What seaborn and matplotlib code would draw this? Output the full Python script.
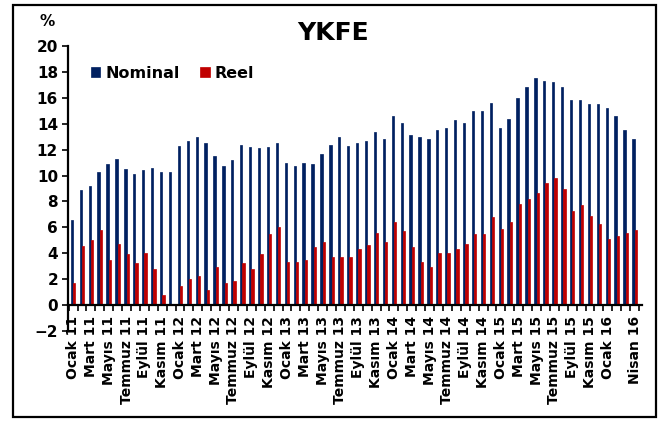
import pandas as pd
import seaborn as sns
import matplotlib.pyplot as plt
from matplotlib.patches import Rectangle

# monthly, Ocak 2011 - Nisan 2016
aylar = ['Ocak', 'Şubat', 'Mart', 'Nisan', 'Mayıs', 'Haziran',
         'Temmuz', 'Ağustos', 'Eylül', 'Ekim', 'Kasım', 'Aralık']
months = [f'{aylar[m]} {y}' for y in range(11, 17) for m in range(12)][:64]

nominal = [6.6, 8.9, 9.2, 10.3, 10.9, 11.25, 10.5, 10.1, 10.4, 10.55,
           10.3, 10.3, 12.25, 12.65, 12.95, 12.5, 11.5, 10.7, 11.2, 12.35,
           12.2, 12.1, 12.2, 12.55, 11.0, 10.7, 11.0, 10.9, 11.65, 12.35,
           12.95, 12.25, 12.55, 12.65, 13.35, 12.8, 14.6, 14.05, 13.15, 13.0,
           12.85, 13.55, 13.7, 14.25, 14.05, 14.95, 15.0, 15.6, 13.65, 14.4,
           16.0, 16.8, 17.5, 17.3, 17.2, 16.8, 15.8, 15.8, 15.5, 15.5,
           15.2, 14.6, 13.55, 12.85]
reel = [1.7, 4.55, 5.0, 5.8, 3.45, 4.75, 3.95, 3.25, 4.05, 2.75,
        0.8, 0.0, 1.45, 2.05, 2.25, 1.15, 2.95, 1.7, 1.85, 3.25,
        2.75, 3.95, 5.45, 6.0, 3.35, 3.35, 3.45, 4.45, 4.85, 3.75,
        3.75, 3.75, 4.3, 4.6, 5.6, 4.9, 6.4, 5.7, 4.45, 3.35,
        2.95, 4.05, 4.05, 4.3, 4.75, 5.45, 5.45, 6.8, 5.9, 6.4,
        7.8, 8.2, 8.65, 9.45, 9.8, 9.0, 7.3, 7.7, 6.9, 6.25,
        5.1, 5.3, 5.6, 5.8]

df = pd.DataFrame({'Ay': months * 2,
                   'Deger': nominal + reel,
                   'Seri': ['Nominal'] * 64 + ['Reel'] * 64})

sns.set_style('white')
plt.rcParams['font.family'] = ['DejaVu Sans']
plt.rcParams['font.weight'] = 'bold'
plt.rcParams['text.color'] = 'black'
plt.rcParams['xtick.color'] = 'black'
plt.rcParams['ytick.color'] = 'black'
plt.rcParams['axes.edgecolor'] = 'black'

fig = plt.figure(figsize=(6.64, 4.21), dpi=100)
ax = fig.add_axes([0.102, 0.2138, 0.8644, 0.6769])

sns.barplot(data=df, x='Ay', y='Deger', hue='Seri',
            palette=['#002060', '#C00000'], width=0.52, gap=0,
            saturation=1, ax=ax)
for bar in ax.patches:
    bar.set_edgecolor(bar.get_facecolor())
    bar.set_linewidth(0.5)

ax.set_xlim(-0.6, 63.8)
ax.set_ylim(-2, 20)
ax.set_yticks(range(-2, 21, 2))
ax.tick_params(axis='y', direction='out', length=4, width=1.2, pad=3,
               labelsize=11, left=True)
for t in ax.get_yticklabels():
    t.set_fontweight('bold')

# x axis crosses at 0
ax.spines['bottom'].set_position(('data', 0))
ax.spines['bottom'].set_linewidth(1.6)
ax.spines['left'].set_linewidth(1.6)
ax.spines['top'].set_visible(False)
ax.spines['right'].set_visible(False)

lab_pos = list(range(0, 61, 2)) + [63]
ax.set_xticks(lab_pos)
ax.set_xticklabels([months[i] for i in lab_pos],
                   rotation=90, fontsize=10, fontweight='bold')
ax.set_xticks([i + 0.5 for i in range(-1, 64)], minor=True)
ax.tick_params(axis='x', which='major', length=0, pad=8, bottom=True)
ax.tick_params(axis='x', which='minor', direction='out', length=4,
               width=1.2, bottom=True)
ax.set_xlabel('')
ax.set_ylabel('')

leg = ax.legend(loc='center left', bbox_to_anchor=(0.04, 0.905), ncol=2,
                frameon=False, borderaxespad=0, borderpad=0,
                handlelength=0.6, handleheight=0.6, handletextpad=0.3,
                columnspacing=1.3, prop={'weight': 'bold', 'size': 11.5})

fig.text(0.5015, 0.9216, 'YKFE', ha='center', va='center',
         fontsize=18, fontweight='bold')
fig.text(0.071, 0.948, '%', ha='center', va='center',
         fontsize=11, fontweight='bold')

fig.patches.append(Rectangle((0.0196, 0.0095), 0.968, 0.9785,
                             transform=fig.transFigure, fill=False,
                             edgecolor='black', linewidth=1.6))

fig.savefig('out.png', dpi=100)
